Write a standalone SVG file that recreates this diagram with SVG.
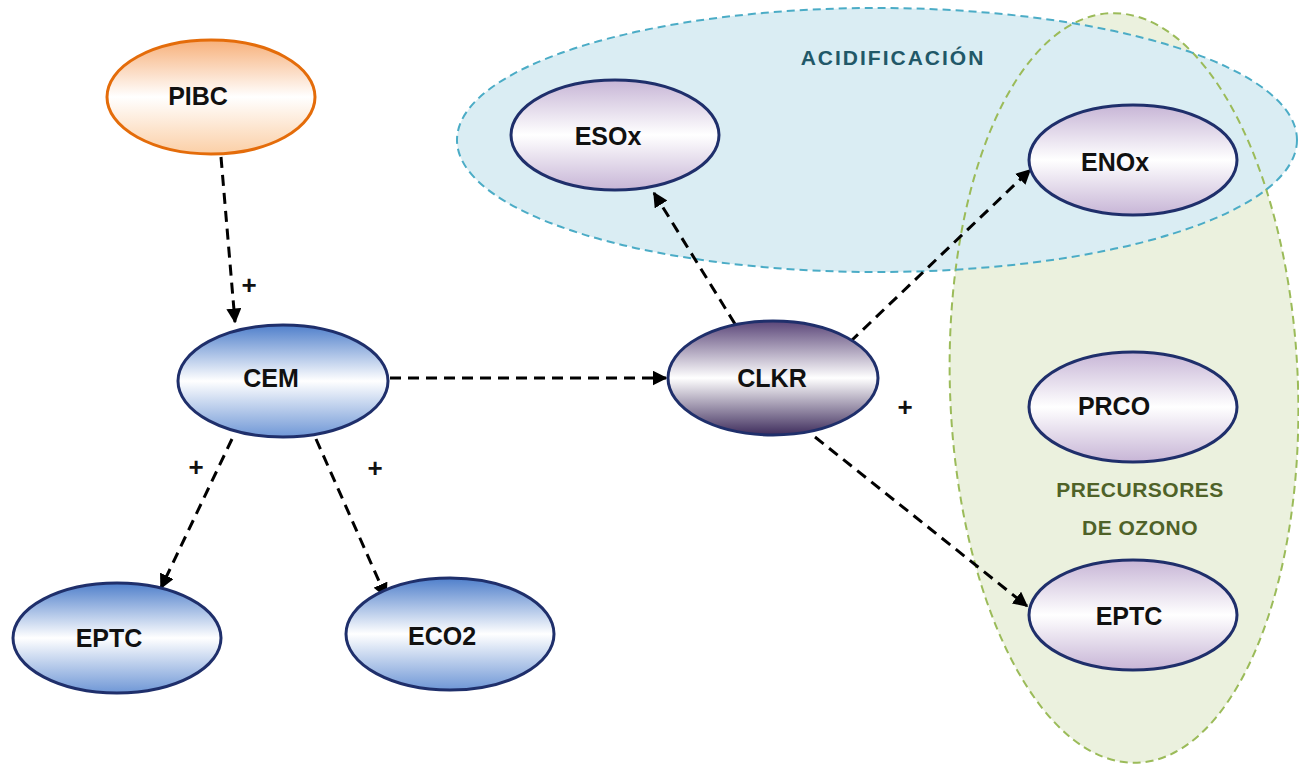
<svg xmlns="http://www.w3.org/2000/svg" width="1299" height="767" viewBox="0 0 1299 767">
  <defs>
    <linearGradient id="gOrange" x1="0" y1="0" x2="0" y2="1">
      <stop offset="0" stop-color="#f7b07a"/>
      <stop offset="0.5" stop-color="#ffffff"/>
      <stop offset="1" stop-color="#fbcfa6"/>
    </linearGradient>
    <linearGradient id="gBlue" x1="0" y1="0" x2="0" y2="1">
      <stop offset="0" stop-color="#4f7fcb"/>
      <stop offset="0.5" stop-color="#ffffff"/>
      <stop offset="1" stop-color="#6f97d6"/>
    </linearGradient>
    <linearGradient id="gDark" x1="0" y1="0" x2="0" y2="1">
      <stop offset="0" stop-color="#5a4578"/>
      <stop offset="0.5" stop-color="#ffffff"/>
      <stop offset="1" stop-color="#3e2c5c"/>
    </linearGradient>
    <linearGradient id="gLilac" x1="0" y1="0" x2="0" y2="1">
      <stop offset="0" stop-color="#c7b5d6"/>
      <stop offset="0.5" stop-color="#ffffff"/>
      <stop offset="1" stop-color="#c7b5d6"/>
    </linearGradient>
    <marker id="arrow" viewBox="0 0 10 10" refX="9" refY="5" markerWidth="5" markerHeight="5" orient="auto" markerUnits="strokeWidth">
      <path d="M0,0 L10,5 L0,10 z" fill="#000"/>
    </marker>
  </defs>
  <style>
    .node { stroke: #1f2f6b; stroke-width: 3; }
    .lbl { font-family: "Liberation Sans", Arial, sans-serif; font-weight: bold; font-size: 25px; fill: #111; text-anchor: middle; dominant-baseline: central; }
    .plus { font-family: "Liberation Sans", Arial, sans-serif; font-weight: bold; font-size: 26px; fill: #111; text-anchor: middle; dominant-baseline: central; }
    .edge { stroke: #000; stroke-width: 3; stroke-dasharray: 11 7; fill: none; marker-end: url(#arrow); }
    .grp { font-family: "Liberation Sans", Arial, sans-serif; font-weight: bold; font-size: 21px; text-anchor: middle; dominant-baseline: central; }
  </style>

  <rect width="1299" height="767" fill="#ffffff"/>

  <!-- grouping regions -->
  <g id="region-ozono">
    <ellipse cx="1124" cy="388" rx="174" ry="375" transform="rotate(-2 1124 388)" fill="#ebf1de"/>
  </g>
  <g id="region-acidificacion">
    <ellipse cx="877" cy="140" rx="420" ry="132" fill="#daedf3"/>
    <ellipse cx="1124" cy="388" rx="174" ry="375" transform="rotate(-2 1124 388)" fill="none" stroke="#9bbb59" stroke-width="2" stroke-dasharray="8 5"/>
    <ellipse cx="877" cy="140" rx="420" ry="132" fill="none" stroke="#4bacc6" stroke-width="2" stroke-dasharray="8 5"/>
    <text class="grp" x="893" y="57" fill="#215868" letter-spacing="2">ACIDIFICACIÓN</text>
  </g>
  <g id="label-ozono">
    <text class="grp" x="1140" y="489" fill="#4f6228" font-size="22" letter-spacing="0.5">PRECURSORES</text>
    <text class="grp" x="1140" y="527" fill="#4f6228" font-size="22" letter-spacing="0.5">DE OZONO</text>
  </g>

  <!-- connectors -->
  <g id="connectors">
    <line class="edge" x1="221" y1="157" x2="235" y2="322"/>
    <line class="edge" x1="390" y1="378" x2="666" y2="378"/>
    <line class="edge" x1="232" y1="439" x2="161" y2="588"/>
    <line class="edge" x1="316" y1="439" x2="386" y2="597"/>
    <line class="edge" x1="735" y1="324" x2="654" y2="193"/>
    <line class="edge" x1="850" y1="342" x2="1030" y2="170"/>
    <line class="edge" x1="815" y1="437" x2="1027" y2="606"/>
    <text class="plus" x="249" y="285">+</text>
    <text class="plus" x="196" y="467">+</text>
    <text class="plus" x="375" y="468">+</text>
    <text class="plus" x="905" y="407">+</text>
  </g>

  <!-- nodes -->
  <g id="PIBC">
    <ellipse cx="211" cy="97" rx="104" ry="57" fill="url(#gOrange)" stroke="#e46c0a" stroke-width="3"/>
    <text class="lbl" x="198" y="96">PIBC</text>
  </g>
  <g id="CEM">
    <ellipse class="node" cx="283" cy="381" rx="105" ry="56" fill="url(#gBlue)"/>
    <text class="lbl" x="271" y="378">CEM</text>
  </g>
  <g id="CLKR">
    <ellipse class="node" cx="773" cy="378" rx="105" ry="57" fill="url(#gDark)"/>
    <text class="lbl" x="772" y="378">CLKR</text>
  </g>
  <g id="ESOx">
    <ellipse class="node" cx="615" cy="135" rx="104" ry="55" fill="url(#gLilac)"/>
    <text class="lbl" x="608" y="136">ESOx</text>
  </g>
  <g id="ENOx">
    <ellipse class="node" cx="1133" cy="160" rx="104" ry="55" fill="url(#gLilac)"/>
    <text class="lbl" x="1115" y="162">ENOx</text>
  </g>
  <g id="PRCO">
    <ellipse class="node" cx="1133" cy="407" rx="104" ry="55" fill="url(#gLilac)"/>
    <text class="lbl" x="1114" y="406">PRCO</text>
  </g>
  <g id="EPTC-right">
    <ellipse class="node" cx="1133" cy="615" rx="104" ry="55" fill="url(#gLilac)"/>
    <text class="lbl" x="1129" y="616">EPTC</text>
  </g>
  <g id="EPTC-left">
    <ellipse class="node" cx="117" cy="638" rx="104" ry="55" fill="url(#gBlue)"/>
    <text class="lbl" x="109" y="638">EPTC</text>
  </g>
  <g id="ECO2">
    <ellipse class="node" cx="450" cy="634" rx="104" ry="56" fill="url(#gBlue)"/>
    <text class="lbl" x="442" y="636">ECO2</text>
  </g>
</svg>
